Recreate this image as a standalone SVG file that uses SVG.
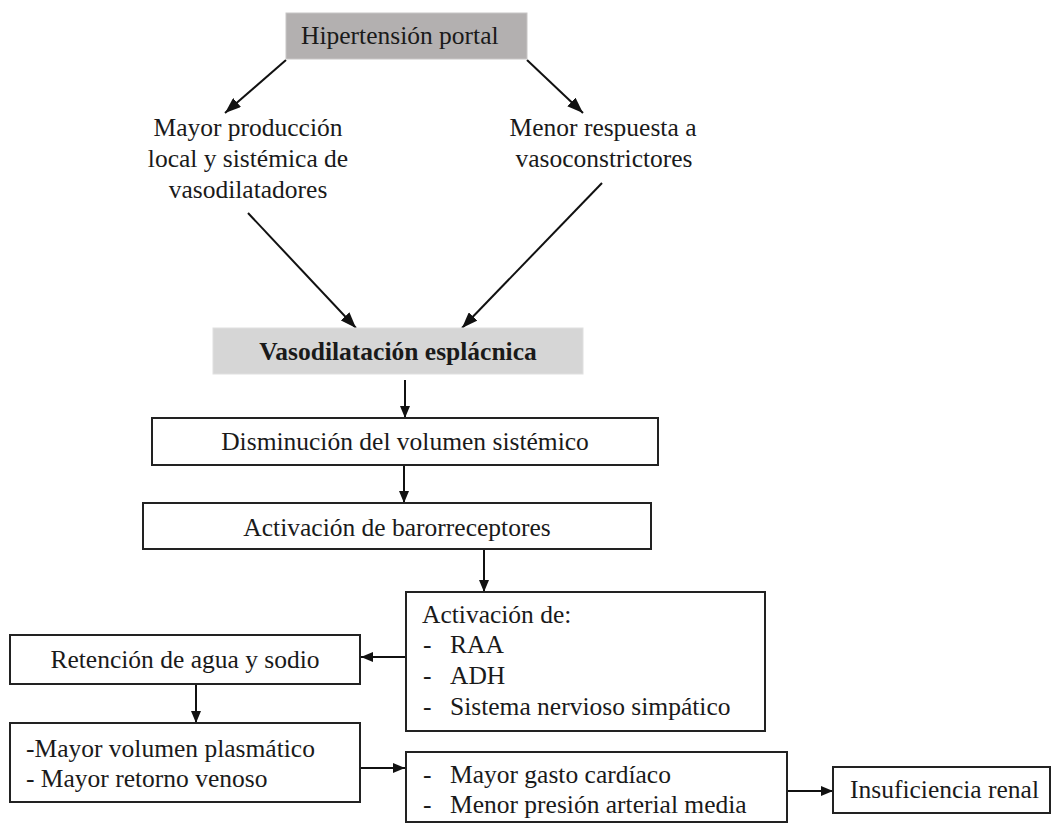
<svg xmlns="http://www.w3.org/2000/svg" width="1052" height="824" viewBox="0 0 1052 824">
  <style>
    text { font-family: "Liberation Serif", "Times New Roman", serif; font-size: 25.5px; fill: #1a1a1a; }
    .c { text-anchor: middle; }
    .b { font-weight: bold; }
    .box { fill: #ffffff; stroke: #222222; stroke-width: 2; }
    .dark { fill: #b3b0b0; stroke: #c8c6c6; stroke-width: 1; }
    .light { fill: #d6d6d6; stroke: #e0e0e0; stroke-width: 1; }
    .edge { fill: none; stroke: #111111; stroke-width: 2; }
  </style>
  <defs>
    <marker id="arrow" markerUnits="userSpaceOnUse" viewBox="0 0 12 10" refX="12" refY="5" markerWidth="12" markerHeight="10" orient="auto">
      <path d="M0,0 L12,5 L0,10 z" fill="#111111"/>
    </marker>
    <marker id="arrowBig" markerUnits="userSpaceOnUse" viewBox="0 0 16 12" refX="16" refY="6" markerWidth="16" markerHeight="12" orient="auto">
      <path d="M0,0 L16,6 L0,12 z" fill="#111111"/>
    </marker>
  </defs>

  <rect width="1052" height="824" fill="#ffffff"/>

  <!-- all arrows between the steps -->
  <g id="connectors">
    <line class="edge" x1="286" y1="60" x2="225" y2="113" marker-end="url(#arrowBig)"/>
    <line class="edge" x1="527" y1="60" x2="583" y2="113" marker-end="url(#arrowBig)"/>
    <line class="edge" x1="248" y1="213" x2="356" y2="328" marker-end="url(#arrowBig)"/>
    <line class="edge" x1="602" y1="183" x2="462" y2="328" marker-end="url(#arrowBig)"/>
    <line class="edge" x1="405" y1="380" x2="405" y2="418" marker-end="url(#arrow)"/>
    <line class="edge" x1="404" y1="465" x2="404" y2="503" marker-end="url(#arrow)"/>
    <line class="edge" x1="484" y1="549" x2="484" y2="592" marker-end="url(#arrow)"/>
    <line class="edge" x1="406" y1="657" x2="361" y2="657" marker-end="url(#arrow)"/>
    <line class="edge" x1="196" y1="684" x2="196" y2="723" marker-end="url(#arrow)"/>
    <line class="edge" x1="360" y1="768" x2="405" y2="768" marker-end="url(#arrow)"/>
    <line class="edge" x1="787" y1="791" x2="833" y2="791" marker-end="url(#arrow)"/>
  </g>

  <g id="hipertension">
    <rect class="dark" x="286" y="13" width="241" height="46"/>
    <text x="301" y="44">Hipertensión portal</text>
  </g>

  <g id="vasodilatadores">
    <text class="c" x="248" y="136">Mayor producción</text>
    <text class="c" x="248" y="167">local y sistémica de</text>
    <text class="c" x="248" y="198">vasodilatadores</text>
  </g>

  <g id="vasoconstrictores">
    <text class="c" x="603" y="136">Menor respuesta a</text>
    <text class="c" x="604" y="167">vasoconstrictores</text>
  </g>

  <g id="vasodilatacion">
    <rect class="light" x="213" y="328" width="370" height="46"/>
    <text class="c b" x="398" y="360">Vasodilatación esplácnica</text>
  </g>

  <g id="disminucion">
    <rect class="box" x="152" y="418" width="506" height="47"/>
    <text class="c" x="405" y="450">Disminución del volumen sistémico</text>
  </g>

  <g id="barorreceptores">
    <rect class="box" x="143" y="503" width="508" height="46"/>
    <text class="c" x="397" y="536">Activación de barorreceptores</text>
  </g>

  <g id="activacion">
    <rect class="box" x="406" y="592" width="359" height="139"/>
    <text x="422" y="623">Activación de:</text>
    <text y="653"><tspan x="423">-</tspan><tspan x="450">RAA</tspan></text>
    <text y="684"><tspan x="423">-</tspan><tspan x="450">ADH</tspan></text>
    <text y="715"><tspan x="423">-</tspan><tspan x="450">Sistema nervioso simpático</tspan></text>
  </g>

  <g id="retencion">
    <rect class="box" x="10" y="635" width="350" height="49"/>
    <text class="c" x="185" y="668">Retención de agua y sodio</text>
  </g>

  <g id="volumen">
    <rect class="box" x="10" y="723" width="350" height="79"/>
    <text x="26" y="757">-Mayor volumen plasmático</text>
    <text x="26" y="787">- Mayor retorno venoso</text>
  </g>

  <g id="gasto">
    <rect class="box" x="406" y="752" width="381" height="70"/>
    <text y="783"><tspan x="423">-</tspan><tspan x="450">Mayor gasto cardíaco</tspan></text>
    <text y="813"><tspan x="423">-</tspan><tspan x="450">Menor presión arterial media</tspan></text>
  </g>

  <g id="insuficiencia">
    <rect class="box" x="833" y="767" width="217" height="46"/>
    <text x="850" y="798">Insuficiencia renal</text>
  </g>
</svg>
